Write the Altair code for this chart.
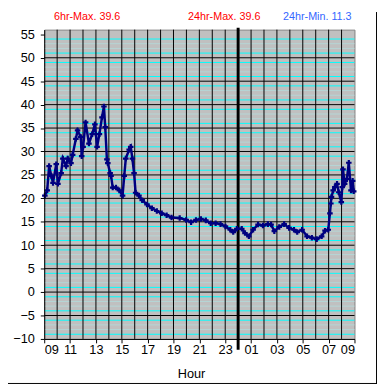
import altair as alt
import pandas as pd

# hours since 09:00 and temperature readings
hours = [0.05, 0.23, 0.38, 0.55, 0.68, 0.93, 1.06, 1.31, 1.44, 1.69, 1.82, 2.07, 2.20, 2.45,
         2.58, 2.83, 2.90, 3.01, 3.20, 3.46, 3.71, 3.92, 4.09, 4.27, 4.47, 4.62, 4.72, 4.85,
         4.92, 5.10, 5.17, 5.30, 5.55, 5.81, 6.06, 6.19, 6.31, 6.57, 6.69, 6.82, 6.95, 7.07,
         7.33, 7.58, 7.95, 8.33, 8.71, 9.09, 9.47, 9.85, 10.48, 10.98, 11.36, 11.74, 12.12,
         12.50, 12.88, 13.26, 13.64, 14.02, 14.39, 14.62, 14.90, 15.28, 15.53, 15.83, 16.16,
         16.54, 16.92, 17.30, 17.55, 17.80, 18.18, 18.56, 18.94, 19.32, 19.57, 19.95, 20.33,
         20.70, 21.08, 21.46, 21.72, 21.97, 22.10, 22.17, 22.22, 22.35, 22.48, 22.65, 22.78,
         22.98, 23.05, 23.11, 23.24, 23.41, 23.56, 23.73, 23.86, 23.94]
temps = [20.6, 21.7, 26.9, 24.8, 23.3, 27.3, 23.1, 25.4, 28.5, 26.9, 28.5, 27.5, 29.3, 32.7,
         34.5, 33.1, 29.0, 31.0, 36.2, 31.7, 33.7, 35.8, 31.0, 33.7, 37.3, 39.6, 35.2, 28.3,
         27.5, 25.4, 24.8, 22.3, 22.3, 21.7, 20.6, 24.8, 28.5, 30.4, 31.0, 28.5, 25.4, 21.2,
         20.6, 19.6, 18.7, 17.9, 17.3, 16.8, 16.4, 15.9, 15.8, 15.4, 14.9, 15.4, 15.6,
         15.3, 14.7, 14.7, 14.5, 14.0, 13.3, 12.8, 13.5, 13.5, 12.6, 11.9, 13.3,
         14.4, 14.2, 14.5, 14.4, 13.0, 13.9, 14.5, 13.7, 13.3, 12.8, 13.3, 11.9,
         11.6, 11.3, 11.9, 13.1, 13.3, 16.8, 18.9, 20.3, 21.7, 22.4, 23.1, 21.3,
         19.2, 22.4, 26.2, 23.1, 24.1, 27.6, 21.7, 23.75, 21.5]

header_labels = ["6hr-Max. 39.6", "24hr-Max. 39.6", "24hr-Min. 11.3"]

y_ticks = list(range(-10, 56, 5))
x_ticks = list(range(0, 25, 2))
major_vals = list(range(-5, 55, 5))
minor_bright = [v for v in range(-9, 55) if v % 5 in (1, 4)]
minor_pale = [v for v in range(-9, 55) if v % 5 in (2, 3)]
hour_lines = list(range(1, 24))
midnight = [15]

W, H = 317, 316
FONT = "Arial, Liberation Sans"
xs = alt.Scale(domain=[0, 24], nice=False, zero=False)
ys = alt.Scale(domain=[-10, 56], nice=False, zero=False)

xaxis = alt.Axis(values=x_ticks, title="Hour", grid=False, domainColor="black", tickColor="black",
                 tickSize=4, labelFont=FONT, labelFontSize=13, labelColor="black", labelPadding=1,
                 titleFont=FONT, titleFontSize=13, titleFontWeight="normal", titleColor="black",
                 titlePadding=11, titleX=150, zindex=1,
                 labelExpr="(((datum.value+9)%24) < 10 ? '0' : '') + ((datum.value+9)%24)")
yaxis = alt.Axis(values=y_ticks, title=None, grid=False, domainColor="black", tickColor="black",
                 tickSize=4, labelFont=FONT, labelFontSize=13, labelColor="black", labelPadding=6,
                 zindex=1)

df = pd.DataFrame({"h": hours, "t": temps})


def hrules(vals, color, width=1):
    return alt.Chart(pd.DataFrame({"v": vals})).mark_rule(color=color, strokeWidth=width).encode(
        y=alt.Y("v:Q", scale=ys, axis=yaxis))


pale = hrules(minor_pale, "#B4D6D6")
bright = hrules(minor_bright, "#00FFFF")
major = hrules(major_vals, "#000000")
vert = alt.Chart(pd.DataFrame({"h": hour_lines})).mark_rule(color="#000000", strokeWidth=1).encode(
    x=alt.X("h:Q", scale=xs, axis=xaxis))
mid = alt.Chart(pd.DataFrame({"h": midnight})).mark_rule(color="#000000", strokeWidth=3).encode(
    x=alt.X("h:Q", scale=xs, axis=xaxis), y=alt.value(-2), y2=alt.value(327))

line = alt.Chart(df).mark_line(color="#000080", strokeWidth=2.5).encode(
    x=alt.X("h:Q", scale=xs, axis=xaxis), y=alt.Y("t:Q", scale=ys, axis=yaxis))
pts = alt.Chart(df).mark_point(shape="cross", filled=True, size=32, color="#000080", opacity=1).encode(
    x=alt.X("h:Q", scale=xs, axis=xaxis), y=alt.Y("t:Q", scale=ys, axis=yaxis))

header_colors = ["#FF0000", "#FF0000", "#3366FF"]
header_x = [10, 147, 244]
texts = []
for lab, col, px in zip(header_labels, header_colors, header_x):
    texts.append(alt.Chart(pd.DataFrame({"label": [lab]})).mark_text(
        align="left", baseline="middle", font=FONT, fontSize=11, color=col).encode(
        x=alt.value(px), y=alt.value(-13), text="label:N"))

border_r = alt.Chart(pd.DataFrame({"k": [0]})).mark_rule(color="black", strokeWidth=1).encode(
    x=alt.value(339.5), y=alt.value(-18), y2=alt.value(362))
border_b = alt.Chart(pd.DataFrame({"k": [0]})).mark_rule(color="black", strokeWidth=1).encode(
    x=alt.value(-37), x2=alt.value(340), y=alt.value(361.5))

chart = alt.layer(pale, bright, major, vert, mid, line, pts, *texts, border_r, border_b).properties(
    width=W, height=H,
    autosize=alt.AutoSizeParams(type="none"),
    padding={"left": 37, "top": 18, "right": 23, "bottom": 46},
    background="white",
).configure_view(fill="#C0C0C0", stroke="#808080", strokeWidth=1)

chart.save("out.html", embed_options={"renderer": "svg", "actions": False})
